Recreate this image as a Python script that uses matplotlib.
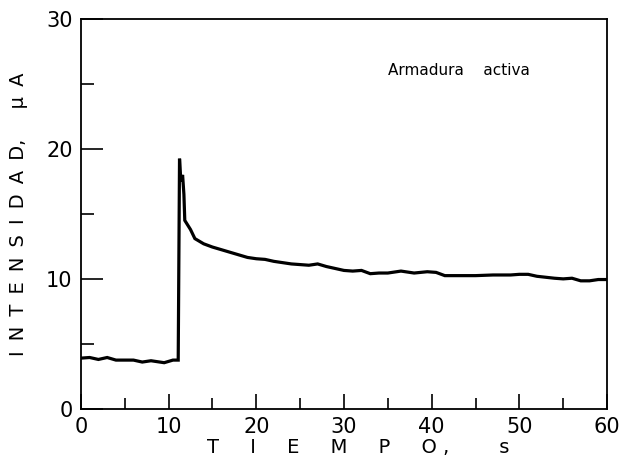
import matplotlib
matplotlib.use("Agg")
import matplotlib.pyplot as plt
from matplotlib.ticker import MultipleLocator

# Data
tiempo = [0, 1, 2, 3, 4, 5, 6, 7, 8, 9, 9.5, 10, 10.5, 11.1, 11.25, 11.4, 11.6, 11.75, 11.85,
          12.5, 13, 14, 15, 16, 17, 18, 19, 20, 21, 22, 24, 25, 26, 27, 28, 29, 30, 31, 32,
          33, 34, 35, 36.5, 38, 39.5, 40.5, 41.5, 43, 45, 47, 49, 50, 51, 52, 54, 55, 56,
          57, 58, 59, 60]
intensidad = [3.9, 3.95, 3.8, 3.95, 3.75, 3.75, 3.75, 3.6, 3.7, 3.6, 3.55, 3.65, 3.75, 3.75,
              19.25, 17.5, 18.0, 16.5, 14.5,
              13.8, 13.1, 12.7, 12.45, 12.25, 12.05, 11.85, 11.65, 11.55, 11.5, 11.35, 11.15,
              11.1, 11.05, 11.15, 10.95, 10.8, 10.65, 10.6, 10.65,
              10.4, 10.45, 10.45, 10.6, 10.45, 10.55, 10.5, 10.25, 10.25, 10.25, 10.3, 10.3,
              10.35, 10.35, 10.2, 10.05, 10.0, 10.05, 9.85, 9.85, 9.95, 9.95]

xticks = [0, 10, 20, 30, 40, 50, 60]
yticks = [0, 10, 20, 30]

fig = plt.figure(figsize=(6.22, 4.63), dpi=100)
ax = fig.add_axes([0.130, 0.117, 0.846, 0.842])

ax.plot(tiempo, intensidad, color="black", lw=2.3, solid_joinstyle="miter")

ax.set_xlim(0, 60)
ax.set_ylim(0, 30)
ax.set_xticks(xticks)
ax.set_yticks(yticks)
ax.xaxis.set_minor_locator(MultipleLocator(5))
ax.yaxis.set_minor_locator(MultipleLocator(5))
ax.tick_params(axis="both", which="both", direction="in", top=False, right=False,
               width=1.2, colors="black", labelsize=15, labelcolor="black")
ax.tick_params(axis="x", which="major", length=11, pad=6)
ax.tick_params(axis="x", which="minor", length=8)
ax.tick_params(axis="y", which="major", length=16, pad=6)
ax.tick_params(axis="y", which="minor", length=9)
for lab in ax.get_xticklabels() + ax.get_yticklabels():
    lab.set_fontfamily("DejaVu Sans")
for sp in ax.spines.values():
    sp.set_linewidth(1.3)

ax.text(35, 26.0, "Armadura    activa", fontsize=11, ha="left", va="center",
        family="DejaVu Sans")

sp_ = " \u2009"
ylab = sp_.join(list("INTENSIDAD")) + "," + sp_ * 3 + "μ" + sp_ + "A"
ax.set_ylabel(ylab, fontsize=14, family="DejaVu Sans")
ax.yaxis.set_label_coords(-0.10, 0.5)
ax.set_xlabel("T     I     E     M     P     O ,        s", fontsize=14,
              family="DejaVu Sans")
ax.xaxis.set_label_coords(0.527, -0.075)

fig.savefig("out.png", dpi=100)
